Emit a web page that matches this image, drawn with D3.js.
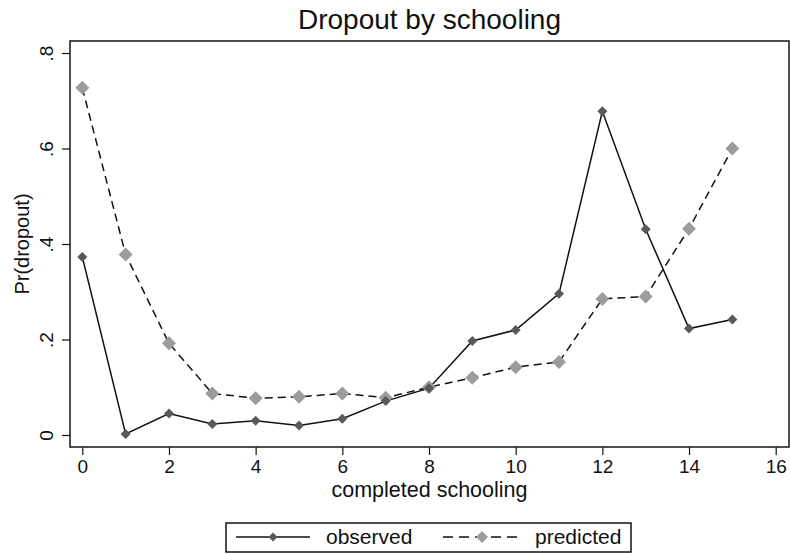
<!DOCTYPE html>
<html>
<head>
<meta charset="utf-8">
<script src="https://cdn.jsdelivr.net/npm/d3@7"></script>
<style>
  body { margin: 0; background: #fff; }
  text { font-family: "Liberation Sans", Arial, sans-serif; fill: #111; }
</style>
</head>
<body>
<svg id="chart" width="790" height="554"></svg>
<script>
const schooling = [0, 1, 2, 3, 4, 5, 6, 7, 8, 9, 10, 11, 12, 13, 14, 15];
const observed = [0.373, 0.002, 0.045, 0.023, 0.030, 0.020, 0.034, 0.071, 0.098, 0.197, 0.220, 0.296, 0.678, 0.431, 0.223, 0.242];
const predicted = [0.727, 0.378, 0.192, 0.087, 0.077, 0.080, 0.087, 0.078, 0.100, 0.120, 0.142, 0.153, 0.285, 0.290, 0.432, 0.600];
const xTicks = [0, 2, 4, 6, 8, 10, 12, 14, 16];
const yTicks = [0, 0.2, 0.4, 0.6, 0.8];
const yTickLabels = ["0", ".2", ".4", ".6", ".8"];

const svg = d3.select("#chart");

const frame = { left: 70, right: 789, top: 41, bottom: 447 };

const x = d3.scaleLinear().domain([0, 16]).range([82.3, 775.7]);
const y = d3.scaleLinear().domain([0, 0.8]).range([435, 53]);

// diamond = square rotated 45 degrees, r = half diagonal
const diamond = (r) => `M0,${-r}L${r},0L0,${r}L${-r},0Z`;

svg.append("text")
  .attr("x", (frame.left + frame.right) / 2)
  .attr("y", 29)
  .attr("text-anchor", "middle")
  .style("font-size", "28px")
  .text("Dropout by schooling");

// axes
const xAxis = svg.append("g")
  .attr("transform", `translate(0,${frame.bottom})`)
  .call(d3.axisBottom(x).tickValues(xTicks).tickSize(8).tickPadding(5).tickFormat(d3.format("d")));
xAxis.select(".domain").remove();
xAxis.selectAll("line").attr("stroke", "#111").attr("stroke-width", 1.2);
xAxis.selectAll("text").style("font-size", "19px").attr("fill", "#111");

const yAxis = svg.append("g")
  .attr("transform", `translate(${frame.left},0)`)
  .call(d3.axisLeft(y).tickValues(yTicks).tickSize(8).tickFormat((d, i) => yTickLabels[i]));
yAxis.select(".domain").remove();
yAxis.selectAll("line").attr("stroke", "#111").attr("stroke-width", 1.2);
yAxis.selectAll("text")
  .attr("x", null).attr("dy", null)
  .attr("transform", "translate(-17,0) rotate(-90)")
  .attr("text-anchor", "middle")
  .attr("fill", "#111")
  .style("font-size", "19px");

svg.append("rect")
  .attr("x", frame.left)
  .attr("y", frame.top)
  .attr("width", frame.right - frame.left)
  .attr("height", frame.bottom - frame.top)
  .attr("fill", "none")
  .attr("stroke", "#222")
  .attr("stroke-width", 1.6);

svg.append("text")
  .attr("transform", `translate(29,${(frame.top + frame.bottom) / 2}) rotate(-90)`)
  .attr("text-anchor", "middle")
  .style("font-size", "20px")
  .text("Pr(dropout)");

svg.append("text")
  .attr("x", (frame.left + frame.right) / 2)
  .attr("y", 497)
  .attr("text-anchor", "middle")
  .style("font-size", "21.5px")
  .text("completed schooling");

// series
const line = (vals) => d3.line().x((d, i) => x(schooling[i])).y((d) => y(d))(vals);

svg.append("path")
  .attr("d", line(predicted))
  .attr("fill", "none")
  .attr("stroke", "#111")
  .attr("stroke-width", 1.5)
  .attr("stroke-dasharray", "8,5");

svg.append("path")
  .attr("d", line(observed))
  .attr("fill", "none")
  .attr("stroke", "#111")
  .attr("stroke-width", 1.5);

svg.append("g").selectAll("path")
  .data(predicted)
  .join("path")
  .attr("transform", (d, i) => `translate(${x(schooling[i])},${y(d)})`)
  .attr("d", diamond(7))
  .attr("fill", "#9c9c9c");

svg.append("g").selectAll("path")
  .data(observed)
  .join("path")
  .attr("transform", (d, i) => `translate(${x(schooling[i])},${y(d)})`)
  .attr("d", diamond(5))
  .attr("fill", "#595959");

// legend
const legend = svg.append("g");
legend.append("rect")
  .attr("x", 226).attr("y", 523)
  .attr("width", 405).attr("height", 29)
  .attr("fill", "#fff")
  .attr("stroke", "#111")
  .attr("stroke-width", 1.5);

legend.append("line")
  .attr("x1", 236).attr("x2", 310).attr("y1", 537).attr("y2", 537)
  .attr("stroke", "#111").attr("stroke-width", 1.5);
legend.append("path")
  .attr("transform", "translate(273,537)")
  .attr("d", diamond(4.5))
  .attr("fill", "#595959");
legend.append("text")
  .attr("x", 326).attr("y", 544)
  .style("font-size", "21px")
  .text("observed");

legend.append("line")
  .attr("x1", 443).attr("x2", 521).attr("y1", 537).attr("y2", 537)
  .attr("stroke", "#111").attr("stroke-width", 1.5)
  .attr("stroke-dasharray", "10,6");
legend.append("path")
  .attr("transform", "translate(482,537)")
  .attr("d", diamond(6))
  .attr("fill", "#9c9c9c");
legend.append("text")
  .attr("x", 535).attr("y", 544)
  .style("font-size", "21px")
  .text("predicted");
</script>
</body>
</html>
